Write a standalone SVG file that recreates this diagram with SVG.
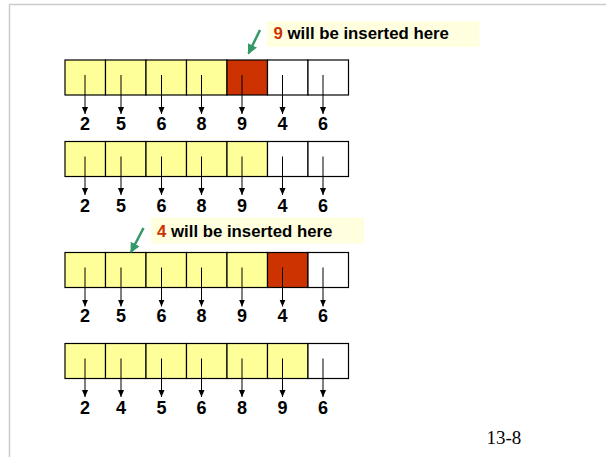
<svg xmlns="http://www.w3.org/2000/svg" width="606" height="457" viewBox="0 0 606 457">
  <defs>
    <marker id="tip" viewBox="0 0 8 10" refX="8" refY="5" markerWidth="7" markerHeight="9" markerUnits="userSpaceOnUse" orient="auto">
      <path d="M0,1.5 L8,5 L0,8.5 z" fill="#000"/>
    </marker>
    <marker id="gtip" viewBox="0 0 10 10" refX="9" refY="5" markerWidth="10" markerHeight="10" markerUnits="userSpaceOnUse" orient="auto">
      <path d="M0,0 L10,5 L0,10 z" fill="#339966"/>
    </marker>
  </defs>
  <style>
    .frame { stroke: #cccccc; stroke-width: 1.5; fill: none; }
    .cell { stroke: #000; stroke-width: 1.2; }
    .y { fill: #ffff99; }
    .r { fill: #cc3300; }
    .w { fill: #ffffff; }
    .ptr { stroke: #000; stroke-width: 1; marker-end: url(#tip); }
    .num { font-family: "Liberation Sans", Arial, sans-serif; font-weight: bold; font-size: 18px; text-anchor: middle; fill: #000; }
    .note-bg { fill: #ffffe0; }
    .note { font-family: "Liberation Sans", Arial, sans-serif; font-weight: bold; font-size: 16.8px; fill: #000; }
    .hl { fill: #cc3300; }
    .gptr { stroke: #339966; stroke-width: 2.5; marker-end: url(#gtip); }
    .page { font-family: "Liberation Serif", "Times New Roman", serif; font-size: 19px; fill: #000; }
  </style>

  <!-- page frame -->
  <path class="frame" d="M9.5,457 V4.5 H606"/>

  <!-- row 1: 2 5 6 8 [9] 4 6 -->
  <g id="row1">
    <rect class="cell y" x="65" y="60" width="40.5" height="35"/>
    <rect class="cell y" x="105.5" y="60" width="40.5" height="35"/>
    <rect class="cell y" x="146" y="60" width="40.5" height="35"/>
    <rect class="cell y" x="186.5" y="60" width="40.5" height="35"/>
    <rect class="cell r" x="227" y="60" width="40.5" height="35"/>
    <rect class="cell w" x="267.5" y="60" width="40.5" height="35"/>
    <rect class="cell w" x="308" y="60" width="40.5" height="35"/>
    <text class="num" x="85" y="130">2</text>
    <text class="num" x="121" y="130">5</text>
    <text class="num" x="161.5" y="130">6</text>
    <text class="num" x="201.5" y="130">8</text>
    <text class="num" x="242" y="130">9</text>
    <text class="num" x="282.5" y="130">4</text>
    <text class="num" x="323" y="130">6</text>
  </g>

  <!-- row 2: 2 5 6 8 9 4 6 -->
  <g id="row2">
    <rect class="cell y" x="65" y="141.5" width="40.5" height="35"/>
    <rect class="cell y" x="105.5" y="141.5" width="40.5" height="35"/>
    <rect class="cell y" x="146" y="141.5" width="40.5" height="35"/>
    <rect class="cell y" x="186.5" y="141.5" width="40.5" height="35"/>
    <rect class="cell y" x="227" y="141.5" width="40.5" height="35"/>
    <rect class="cell w" x="267.5" y="141.5" width="40.5" height="35"/>
    <rect class="cell w" x="308" y="141.5" width="40.5" height="35"/>
    <text class="num" x="85" y="211.5">2</text>
    <text class="num" x="121" y="211.5">5</text>
    <text class="num" x="161.5" y="211.5">6</text>
    <text class="num" x="201.5" y="211.5">8</text>
    <text class="num" x="242" y="211.5">9</text>
    <text class="num" x="282.5" y="211.5">4</text>
    <text class="num" x="323" y="211.5">6</text>
  </g>

  <!-- row 3: 2 5 6 8 9 [4] 6 -->
  <g id="row3">
    <rect class="cell y" x="65" y="252.5" width="40.5" height="35"/>
    <rect class="cell y" x="105.5" y="252.5" width="40.5" height="35"/>
    <rect class="cell y" x="146" y="252.5" width="40.5" height="35"/>
    <rect class="cell y" x="186.5" y="252.5" width="40.5" height="35"/>
    <rect class="cell y" x="227" y="252.5" width="40.5" height="35"/>
    <rect class="cell r" x="267.5" y="252.5" width="40.5" height="35"/>
    <rect class="cell w" x="308" y="252.5" width="40.5" height="35"/>
    <text class="num" x="85" y="322">2</text>
    <text class="num" x="121" y="322">5</text>
    <text class="num" x="161.5" y="322">6</text>
    <text class="num" x="201.5" y="322">8</text>
    <text class="num" x="242" y="322">9</text>
    <text class="num" x="282.5" y="322">4</text>
    <text class="num" x="323" y="322">6</text>
  </g>

  <!-- row 4: 2 4 5 6 8 9 6 -->
  <g id="row4">
    <rect class="cell y" x="65" y="343.5" width="40.5" height="35"/>
    <rect class="cell y" x="105.5" y="343.5" width="40.5" height="35"/>
    <rect class="cell y" x="146" y="343.5" width="40.5" height="35"/>
    <rect class="cell y" x="186.5" y="343.5" width="40.5" height="35"/>
    <rect class="cell y" x="227" y="343.5" width="40.5" height="35"/>
    <rect class="cell y" x="267.5" y="343.5" width="40.5" height="35"/>
    <rect class="cell w" x="308" y="343.5" width="40.5" height="35"/>
    <text class="num" x="85" y="413.5">2</text>
    <text class="num" x="121" y="413.5">4</text>
    <text class="num" x="161.5" y="413.5">5</text>
    <text class="num" x="201.5" y="413.5">6</text>
    <text class="num" x="242" y="413.5">8</text>
    <text class="num" x="282.5" y="413.5">9</text>
    <text class="num" x="323" y="413.5">6</text>
  </g>

  <!-- notes -->
  <g id="note9">
    <rect class="note-bg" x="266.5" y="21" width="213" height="26"/>
    <text class="note" x="273.5" y="38.5"><tspan class="hl">9</tspan> will be inserted here</text>
  </g>
  <g id="note4">
    <rect class="note-bg" x="151" y="217.5" width="213" height="26"/>
    <text class="note" x="157" y="236.5"><tspan class="hl">4</tspan> will be inserted here</text>
  </g>

  <!-- connectors -->
  <g id="connectors">
    <!-- cell pointers -->
    <g class="ptrs">
      <line class="ptr" x1="85" y1="75" x2="85" y2="114"/>
      <line class="ptr" x1="121" y1="75" x2="121" y2="114"/>
      <line class="ptr" x1="161.5" y1="75" x2="161.5" y2="114"/>
      <line class="ptr" x1="201.5" y1="75" x2="201.5" y2="114"/>
      <line class="ptr" x1="242" y1="75" x2="242" y2="114"/>
      <line class="ptr" x1="282.5" y1="75" x2="282.5" y2="114"/>
      <line class="ptr" x1="323" y1="75" x2="323" y2="114"/>

      <line class="ptr" x1="85" y1="156.5" x2="85" y2="195"/>
      <line class="ptr" x1="121" y1="156.5" x2="121" y2="195"/>
      <line class="ptr" x1="161.5" y1="156.5" x2="161.5" y2="195"/>
      <line class="ptr" x1="201.5" y1="156.5" x2="201.5" y2="195"/>
      <line class="ptr" x1="242" y1="156.5" x2="242" y2="195"/>
      <line class="ptr" x1="282.5" y1="156.5" x2="282.5" y2="195"/>
      <line class="ptr" x1="323" y1="156.5" x2="323" y2="195"/>

      <line class="ptr" x1="85" y1="267.5" x2="85" y2="306.5"/>
      <line class="ptr" x1="121" y1="267.5" x2="121" y2="306.5"/>
      <line class="ptr" x1="161.5" y1="267.5" x2="161.5" y2="306.5"/>
      <line class="ptr" x1="201.5" y1="267.5" x2="201.5" y2="306.5"/>
      <line class="ptr" x1="242" y1="267.5" x2="242" y2="306.5"/>
      <line class="ptr" x1="282.5" y1="267.5" x2="282.5" y2="306.5"/>
      <line class="ptr" x1="323" y1="267.5" x2="323" y2="306.5"/>

      <line class="ptr" x1="85" y1="358.5" x2="85" y2="397"/>
      <line class="ptr" x1="121" y1="358.5" x2="121" y2="397"/>
      <line class="ptr" x1="161.5" y1="358.5" x2="161.5" y2="397"/>
      <line class="ptr" x1="201.5" y1="358.5" x2="201.5" y2="397"/>
      <line class="ptr" x1="242" y1="358.5" x2="242" y2="397"/>
      <line class="ptr" x1="282.5" y1="358.5" x2="282.5" y2="397"/>
      <line class="ptr" x1="323" y1="358.5" x2="323" y2="397"/>
    </g>
    <!-- insertion markers -->
    <line class="gptr" x1="260" y1="30" x2="248.5" y2="53.5"/>
    <line class="gptr" x1="143.5" y1="228" x2="131" y2="252"/>
  </g>

  <text class="page" x="486.5" y="443.5">13-8</text>
</svg>
